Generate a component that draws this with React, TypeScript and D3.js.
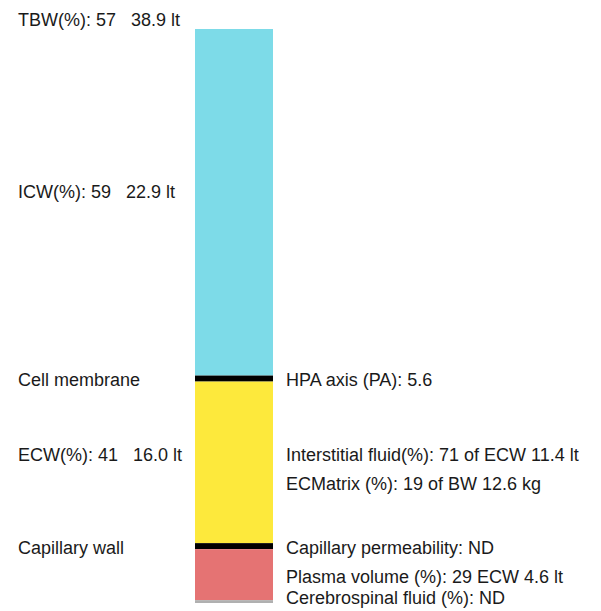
import React from "react";
import * as d3 from "d3";

const segmentNames = ["ICW", "Cell membrane", "Interstitial", "Capillary wall", "Plasma", "Other"];
const segmentValues = [60.5, 1.05, 28.2, 1.05, 8.9, 0.5];
const segmentColors = ["#7ddbe8", "#000000", "#fde93c", "#000000", "#e57373", "#b0b0b0"];

const leftLabels = ["TBW(%): 57   38.9 lt", "ICW(%): 59   22.9 lt", "Cell membrane", "ECW(%): 41   16.0 lt", "Capillary wall"];
const leftLabelY = [19.5, 192, 380, 455, 548];
const rightLabels = [
  "HPA axis (PA): 5.6",
  "Interstitial fluid(%): 71 of ECW 11.4 lt",
  "ECMatrix (%): 19 of BW 12.6 kg",
  "Capillary permeability: ND",
  "Plasma volume (%): 29 ECW 4.6 lt",
  "Cerebrospinal fluid (%): ND",
];
const rightLabelY = [380, 455, 484, 548, 577, 598];

export default function App() {
  const W = 601, H = 611;
  const total = d3.sum(segmentValues);
  const y = d3.scaleLinear().domain([0, total]).range([29, 603]);
  const x = d3.scaleBand().domain(["bar"]).range([195, 273]).padding(0);
  const stacks = d3.cumsum(segmentValues);
  return (
    <svg width={W} height={H} style={{ position: "absolute", left: 0, top: 0, background: "#fff" }}
      fontFamily="'Liberation Sans', Arial, sans-serif" fontSize={18}>
      {segmentValues.map((v, i) => {
        const y0 = y(stacks[i] - v), y1 = y(stacks[i]);
        return <rect key={segmentNames[i]} x={x("bar")} y={y0} width={x.bandwidth()} height={y1 - y0} fill={segmentColors[i]} />;
      })}
      {leftLabels.map((t, i) => (
        <text key={t} x={18} y={leftLabelY[i]} dy="0.35em" fill="#1a1a1a" style={{ whiteSpace: "pre" }}>{t}</text>
      ))}
      {rightLabels.map((t, i) => (
        <text key={t} x={286} y={rightLabelY[i]} dy="0.35em" fill="#1a1a1a" style={{ whiteSpace: "pre" }}>{t}</text>
      ))}
    </svg>
  );
}
